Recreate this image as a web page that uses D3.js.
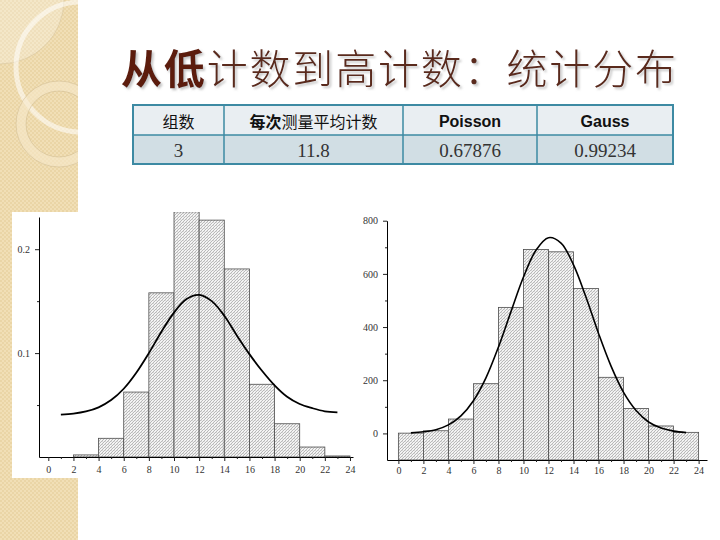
<!DOCTYPE html>
<html>
<head>
<meta charset="utf-8">
<script src="https://cdn.jsdelivr.net/npm/d3@7"></script>
<style>
  body { margin: 0; background: #fff; }
  svg { display: block; }
</style>
</head>
<body>
<div id="slide"></div>
<script>
// table
const tableHeader = ["组数", "每次测量平均计数", "Poisson", "Gauss"];
const tableRow = ["3", "11.8", "0.67876", "0.99234"];

// histogram bins (width 2, left edges)
const binStarts = [0, 2, 4, 6, 8, 10, 12, 14, 16, 18, 20, 22];
const xTicks = [0, 2, 4, 6, 8, 10, 12, 14, 16, 18, 20, 22, 24];
const xMinor = [1, 3, 5, 7, 9, 11, 13, 15, 17, 19, 21, 23];

// low count (probability)
const lowValues = [0, 0.002, 0.018, 0.0625, 0.158, 0.236, 0.228, 0.181, 0.070, 0.032, 0.0096, 0.001];
const lowYTicks = [0.1, 0.2];
const lowYMinor = [0.05, 0.15];
const curveX = [1, 2, 3, 4, 5, 6, 7, 8, 9, 10, 11, 12, 13, 14, 15, 16, 17, 18, 19, 20, 21, 22, 23];
const lowCurve = [0.0407, 0.0417, 0.0438, 0.0478, 0.0548, 0.0657, 0.0811, 0.100, 0.1206, 0.139, 0.152, 0.156,
  0.150, 0.136, 0.117, 0.099, 0.083, 0.069, 0.058, 0.051, 0.047, 0.044, 0.043];

// high count (counts)
const highValues = [1, 10, 54, 187, 474, 692, 683, 545, 211, 94, 28, 4];
const highYTicks = [0, 200, 400, 600, 800];
const highYMinor = [100, 300, 500, 700];
const highCurve = [2, 6, 14, 32, 66, 123, 209, 325, 458, 588, 689, 736,
  716, 634, 512, 376, 253, 154, 86, 43, 20, 8.5, 3];

const svg = d3.select("#slide").append("svg")
  .attr("width", 720).attr("height", 540);
const defs = svg.append("defs");

// beige texture
const tex = defs.append("pattern").attr("id", "tex")
  .attr("patternUnits", "userSpaceOnUse").attr("width", 4).attr("height", 4);
tex.append("rect").attr("width", 4).attr("height", 4).attr("fill", "#f1dfb6");
tex.append("rect").attr("width", 2).attr("height", 2).attr("fill", "#ead5a6");
tex.append("rect").attr("x", 2).attr("y", 2).attr("width", 2).attr("height", 2).attr("fill", "#ead5a6");

// hatch for bars
const hatch = defs.append("pattern").attr("id", "hatch")
  .attr("patternUnits", "userSpaceOnUse").attr("width", 3).attr("height", 3);
hatch.append("rect").attr("width", 3).attr("height", 3).attr("fill", "#f4f4f4");
hatch.append("path").attr("d", "M0,3L3,0M-1,1L1,-1M2,4L4,2")
  .attr("stroke", "#8f8f8f").attr("stroke-width", 0.6);
hatch.append("rect").attr("x", 0.4).attr("y", 0.4).attr("width", 0.7).attr("height", 0.7).attr("fill", "#b0b0b0");

const shadow = defs.append("filter").attr("id", "shadow")
  .attr("x", "-5%").attr("y", "-20%").attr("width", "110%").attr("height", "150%");
shadow.append("feDropShadow").attr("dx", 2).attr("dy", 2).attr("stdDeviation", 1.2)
  .attr("flood-color", "#8c8c8c").attr("flood-opacity", 0.5);

defs.append("clipPath").attr("id", "stripClip")
  .append("rect").attr("width", 78).attr("height", 540);

// left decorative strip
const strip = svg.append("g").attr("clip-path", "url(#stripClip)");
strip.append("rect").attr("width", 78).attr("height", 540).attr("fill", "url(#tex)");
strip.append("path").attr("d", d3.arc()({ innerRadius: 0, outerRadius: 64, startAngle: Math.PI / 2, endAngle: Math.PI }))
  .attr("fill", "#fff").attr("opacity", 0.25);
strip.append("circle").attr("cx", 0).attr("cy", 0).attr("r", 64)
  .attr("fill", "none").attr("stroke", "#d6c49c").attr("stroke-width", 0.6);
strip.append("circle").attr("cx", 81).attr("cy", 67).attr("r", 65)
  .attr("fill", "none").attr("stroke", "#fff").attr("stroke-width", 5).attr("opacity", 0.55);
strip.append("circle").attr("cx", 59).attr("cy", 124).attr("r", 38)
  .attr("fill", "none").attr("stroke", "#f6e9cb").attr("stroke-width", 10).attr("opacity", 0.6);
strip.append("circle").attr("cx", 59).attr("cy", 124).attr("r", 43)
  .attr("fill", "none").attr("stroke", "#cdb98f").attr("stroke-width", 0.5);
strip.append("circle").attr("cx", 59).attr("cy", 124).attr("r", 33)
  .attr("fill", "none").attr("stroke", "#cdb98f").attr("stroke-width", 0.5);

// title
const title = svg.append("text")
  .attr("x", 121).attr("y", 84)
  .attr("textLength", 555).attr("lengthAdjust", "spacing")
  .attr("font-family", "Noto Sans CJK SC").attr("font-size", 41)
  .attr("fill", "#5a2a1e").attr("filter", "url(#shadow)");
title.append("tspan").attr("font-weight", "bold").attr("fill", "#5b1c0e").text("从低");
title.append("tspan").attr("font-weight", 300).text("计数到高计数：统计分布");

// table
const colX = [133, 224, 403, 537, 673];
const rowY = [105, 135, 164];
const table = svg.append("g");
table.append("rect").attr("x", colX[0]).attr("y", rowY[0])
  .attr("width", colX[4] - colX[0]).attr("height", rowY[1] - rowY[0]).attr("fill", "#e9eef2");
table.append("rect").attr("x", colX[0]).attr("y", rowY[1])
  .attr("width", colX[4] - colX[0]).attr("height", rowY[2] - rowY[1]).attr("fill", "#d1dee4");
tableHeader.forEach((h, i) => {
  const cx = (colX[i] + colX[i + 1]) / 2;
  const t = table.append("text").attr("x", cx).attr("y", 121)
    .attr("text-anchor", "middle").attr("dominant-baseline", "central")
    .attr("font-size", 16).attr("fill", "#111");
  if (i === 1) {
    t.attr("font-family", "Noto Sans CJK SC");
    t.append("tspan").attr("font-weight", "bold").text(h.slice(0, 2));
    t.append("tspan").text(h.slice(2));
  } else if (i === 0) {
    t.attr("font-family", "Noto Sans CJK SC").text(h);
  } else {
    t.attr("font-family", "Liberation Sans").attr("font-weight", "bold").text(h);
  }
});
tableRow.forEach((v, i) => {
  const cx = (colX[i] + colX[i + 1]) / 2;
  table.append("text").attr("x", cx).attr("y", 150)
    .attr("text-anchor", "middle").attr("dominant-baseline", "central")
    .attr("font-family", "Liberation Serif").attr("font-size", 19).attr("fill", "#333")
    .text(v);
});
table.append("path")
  .attr("d", `M${colX[0]},${rowY[1]}H${colX[4]}` + colX.slice(1, 4).map(x => `M${x},${rowY[0]}V${rowY[2]}`).join(""))
  .attr("stroke", "#3d8aa3").attr("stroke-width", 1.5).attr("fill", "none");
table.append("rect").attr("x", colX[0]).attr("y", rowY[0])
  .attr("width", colX[4] - colX[0]).attr("height", rowY[2] - rowY[0])
  .attr("fill", "none").attr("stroke", "#3d8aa3").attr("stroke-width", 2);

// white panel behind left chart
svg.append("rect").attr("x", 12).attr("y", 212).attr("width", 348).attr("height", 266).attr("fill", "#fff");

function drawHist(cfg) {
  const g = svg.append("g");
  const x = d3.scaleLinear().domain(cfg.xDomain).range(cfg.xRange);
  const y = d3.scaleLinear().domain(cfg.yDomain).range(cfg.yRange);
  const base = cfg.yRange[0];

  defs.append("clipPath").attr("id", cfg.id + "Clip")
    .append("rect").attr("x", cfg.xRange[0]).attr("y", 212)
    .attr("width", cfg.xRange[1] - cfg.xRange[0]).attr("height", base - 212);

  const bars = g.append("g").attr("clip-path", `url(#${cfg.id}Clip)`);
  bars.selectAll("rect")
    .data(cfg.values.map((v, i) => ({ x0: binStarts[i], v })).filter(d => d.v > 0))
    .join("rect")
    .attr("x", d => x(d.x0))
    .attr("width", d => x(d.x0 + 2) - x(d.x0))
    .attr("y", d => y(d.v))
    .attr("height", d => base - y(d.v))
    .attr("fill", "url(#hatch)")
    .attr("stroke", "#4d4d4d").attr("stroke-width", 0.8);

  const line = d3.line()
    .x((d, i) => x(curveX[i]))
    .y(d => y(d))
    .curve(d3.curveCatmullRom);
  g.append("path").datum(cfg.curve).attr("d", line)
    .attr("fill", "none").attr("stroke", "#000").attr("stroke-width", cfg.lineWidth);

  g.append("g").attr("transform", `translate(0,${base})`)
    .call(d3.axisBottom(x).tickValues(xTicks).tickSize(4).tickSizeOuter(0).tickPadding(cfg.xPad));
  g.append("g").attr("transform", `translate(0,${base})`)
    .call(d3.axisBottom(x).tickValues(xMinor).tickSize(2).tickFormat("").tickSizeOuter(0))
    .select(".domain").remove();
  g.append("g").attr("transform", `translate(${cfg.xRange[0]},0)`)
    .call(d3.axisLeft(y).tickValues(cfg.yTicks).tickSize(4).tickSizeOuter(0).tickPadding(5)
      .tickFormat(cfg.yFormat));
  g.append("g").attr("transform", `translate(${cfg.xRange[0]},0)`)
    .call(d3.axisLeft(y).tickValues(cfg.yMinor).tickSize(2).tickFormat("").tickSizeOuter(0))
    .select(".domain").remove();

  g.selectAll(".domain").attr("stroke", "#000").attr("stroke-width", 1);
  g.selectAll(".tick line").attr("stroke", "#222");
  g.selectAll(".tick text").attr("font-family", "Liberation Serif").attr("font-size", 10).attr("fill", "#333");
}

drawHist({
  id: "low",
  values: lowValues,
  curve: lowCurve,
  xDomain: [-0.74, 24.24], xRange: [39, 353],
  yDomain: [0, 0.231], yRange: [457, 217],
  yTicks: lowYTicks, yMinor: lowYMinor,
  yFormat: d3.format(".1f"),
  xPad: 5,
  lineWidth: 1.8
});

drawHist({
  id: "high",
  values: highValues,
  curve: highCurve,
  xDomain: [-0.91, 24.67], xRange: [387, 707],
  yDomain: [-100, 800], yRange: [460, 220.7],
  yTicks: highYTicks, yMinor: highYMinor,
  yFormat: d3.format("d"),
  xPad: 3,
  lineWidth: 1.6
});
</script>
</body>
</html>
